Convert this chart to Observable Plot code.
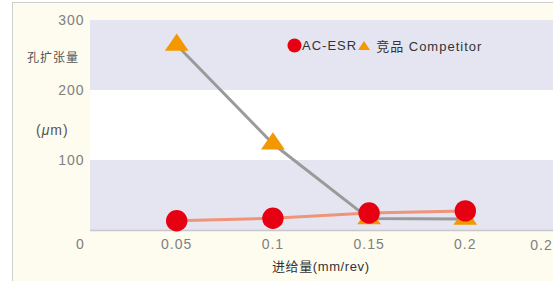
<!DOCTYPE html>
<html>
<head>
<meta charset="utf-8">
<script src="https://cdn.jsdelivr.net/npm/d3@7"></script>
<script src="https://cdn.jsdelivr.net/npm/@observablehq/plot@0.6"></script>
<style>
  html, body { margin: 0; padding: 0; background: #ffffff; overflow: hidden; }
  #wrap { position: relative; width: 553px; height: 281px; overflow: hidden;
          font-family: "Liberation Sans", "Noto Sans CJK SC", sans-serif; }
  #paper { position: absolute; left: 12px; top: 2px; width: 600px; height: 320px;
           background: #fdfcee; border: 1px solid #cfcfcf; }
  #chart { position: absolute; left: 0; top: 0; }
  .lbl { position: absolute; white-space: nowrap; line-height: 1; }
  #ylab1 { left: 27px; top: 51px; font-size: 12px; letter-spacing: 1px; color: #555; font-family: "Noto Sans CJK SC", sans-serif; }
  #ylab2 { left: 36px; top: 123px; font-size: 14px; letter-spacing: 1px; color: #555; }
  #xlab { left: 272px; top: 260px; font-size: 13px; letter-spacing: 0.6px; color: #333; }
  #legend { position: absolute; left: 287px; top: 36px; display: flex; align-items: center;
            font-size: 13px; letter-spacing: 1px; color: #333; }
  #legend svg { display: block; }
</style>
</head>
<body>
<div id="wrap">
  <div id="paper"></div>
  <div id="chart"></div>
  <div class="lbl" id="ylab1">孔扩张量</div>
  <div class="lbl" id="ylab2">(<i>μ</i>m)</div>
  <div class="lbl" id="xlab">进给量(mm/rev)</div>
  <div id="legend"></div>
</div>
<script>
// ---- data ----
const feeds = [0.05, 0.1, 0.15, 0.2];
const acEsr = [14, 17.5, 25, 28];
const competitor = [265, 124, 17, 16.5];
const seriesNames = ["AC-ESR", "竞品 Competitor"];
const xTicks = [0, 0.05, 0.1, 0.15, 0.2, 0.25];
const yTicks = [100, 200, 300];
const bandLows = [0, 200];
const bandHighs = [100, 300];

// ---- tables ----
const esrData = feeds.map((f, i) => ({feed: f, value: acEsr[i]}));
const compData = feeds.map((f, i) => ({feed: f, value: competitor[i]}));
const bands = bandLows.map((lo, i) => ({lo, hi: bandHighs[i]}));

const RED = "#e60012";
const ORANGE = "#f39800";

// wide triangle symbol (wider than tall, like the reference)
const wideTriangle = {
  draw(context, size) {
    const k = Math.sqrt(size / Math.PI);
    context.moveTo(0, -1.2 * k);
    context.lineTo(1.25 * k, 0.6 * k);
    context.lineTo(-1.25 * k, 0.6 * k);
    context.closePath();
  }
};

const fmt = d3.format("~g");
const innerTicks = xTicks.slice(0, -1);
const lastTick = xTicks.slice(-1);

const chart = Plot.plot({
  width: 553,
  height: 281,
  marginLeft: 90,
  marginRight: 0,
  marginTop: 20,
  marginBottom: 51,
  style: {
    background: "transparent",
    fontFamily: "'Liberation Sans', 'Noto Sans CJK SC', sans-serif",
    fontSize: "14px",
    letterSpacing: "1px",
    color: "#808080"
  },
  x: {
    domain: [0, 0.25],
    range: [80, 561],
    ticks: innerTicks,
    tickFormat: fmt,
    tickSize: 0,
    tickPadding: 9,
    label: null
  },
  y: {
    domain: [0, 300],
    range: [230, 20],
    ticks: yTicks,
    tickFormat: fmt,
    tickSize: 0,
    tickPadding: 6,
    label: null
  },
  marks: [
    Plot.frame({fill: "#ffffff", stroke: null}),
    Plot.rect(bands, {y1: "lo", y2: "hi", fill: "#e5e5f2"}),
    Plot.ruleY([0], {stroke: "#c8c8cc", strokeWidth: 1.5}),
    Plot.line(esrData, {x: "feed", y: "value", stroke: "#ef9479", strokeWidth: 3}),
    Plot.line(compData, {x: "feed", y: "value", stroke: "#9a9a9a", strokeWidth: 3}),
    Plot.dot(compData, {x: "feed", y: "value", symbol: wideTriangle, r: 9.5, fill: ORANGE}),
    Plot.dot(esrData, {x: "feed", y: "value", r: 10.7, fill: RED}),
    Plot.text(lastTick, {x: d => d, frameAnchor: "bottom", text: d => fmt(d),
      textAnchor: "end", lineAnchor: "middle", dy: 15, fill: "#808080"})
  ]
});
document.getElementById("chart").appendChild(chart);

// ---- legend ----
const legend = document.getElementById("legend");
const symbols = [
  `<svg width="15" height="15"><circle cx="7.5" cy="7.5" r="7" fill="${RED}"/></svg>`,
  `<svg width="14" height="10"><path d="M7,0 L13,9 L1,9 Z" fill="${ORANGE}"/></svg>`
];
seriesNames.forEach((name, i) => {
  const item = document.createElement("span");
  item.style.display = "flex";
  item.style.alignItems = "center";
  item.innerHTML = symbols[i] + `<span style="margin-left:${i ? 5 : 0}px">${name}</span>`;
  legend.appendChild(item);
});
</script>
</body>
</html>
